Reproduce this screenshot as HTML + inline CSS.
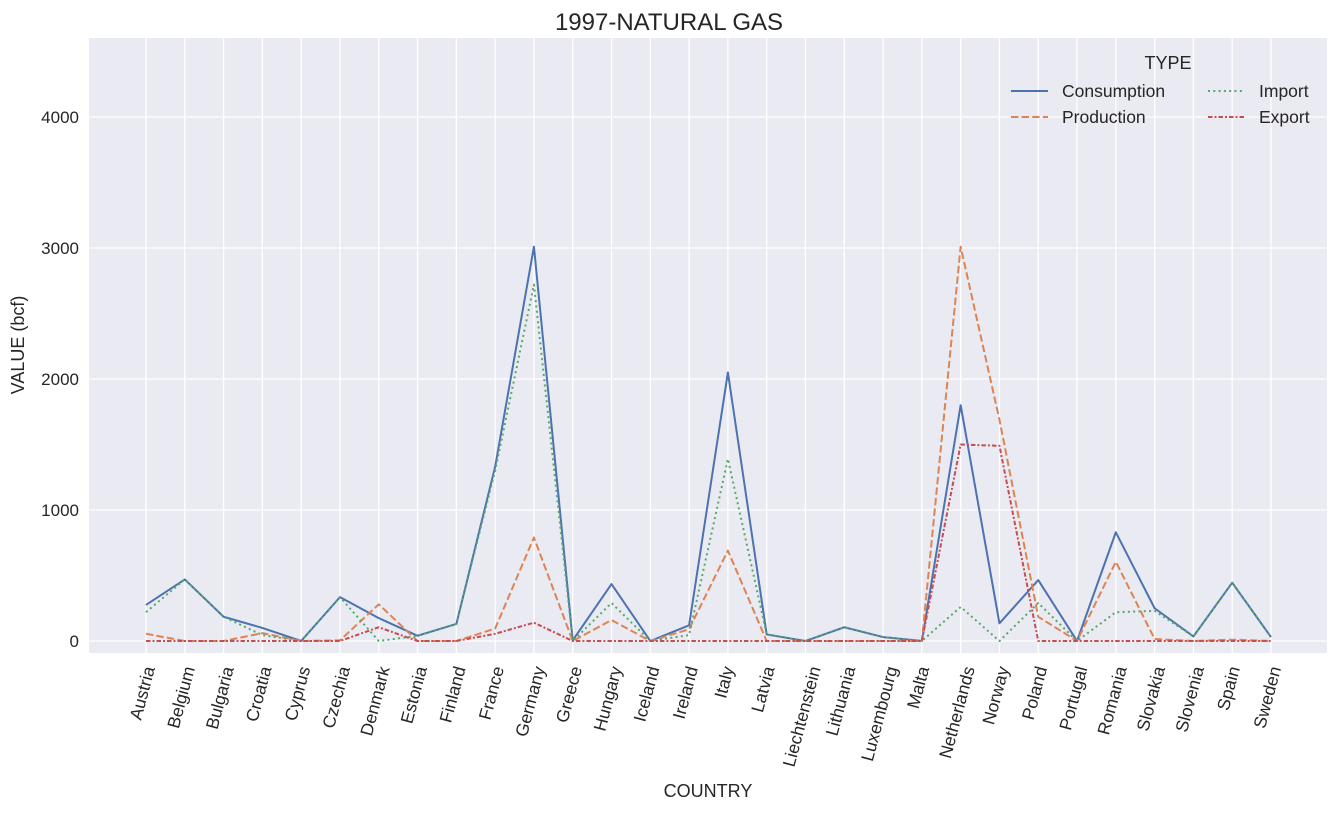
<!DOCTYPE html>
<html><head><meta charset="utf-8"><style>
body{margin:0;background:#fff;font-family:"Liberation Sans",Arial,sans-serif}
svg text{font-family:"Liberation Sans",Arial,sans-serif;fill:#262626}
</style></head><body>
<svg id="c" width="1338" height="811" xmlns="http://www.w3.org/2000/svg">
<rect x="89" y="38" width="1238" height="615" fill="#eaeaf2"/>
<g id="grid"></g><g id="lines"></g><g id="xt"></g><g id="yt"></g>
<text x="669" y="30" text-anchor="middle" font-size="24">1997-NATURAL GAS</text>
<text x="708" y="797" text-anchor="middle" font-size="18">COUNTRY</text>
<text transform="translate(24,345) rotate(-90)" text-anchor="middle" font-size="18">VALUE (bcf)</text>
<g>
<text x="1168" y="69" text-anchor="middle" font-size="18">TYPE</text>
<g><line x1="1011" y1="91" x2="1048" y2="91" stroke="#4c72b0" stroke-width="2"/><text x="1062" y="97" font-size="17.5">Consumption</text></g>
<g><line x1="1011" y1="117" x2="1048" y2="117" stroke="#dd8452" stroke-width="2" stroke-dasharray="7.4 3.2"/><text x="1062" y="123" font-size="17.5">Production</text></g>
<g><line x1="1208" y1="91" x2="1245" y2="91" stroke="#55a868" stroke-width="2" stroke-dasharray="2 3.3"/><text x="1259" y="97" font-size="17.5">Import</text></g>
<g><line x1="1208" y1="117" x2="1245" y2="117" stroke="#c44e52" stroke-width="2" stroke-dasharray="4.5 2 2 2"/><text x="1259" y="123" font-size="17.5">Export</text></g>
</g>
</svg>
<script>
const countries=["Austria","Belgium","Bulgaria","Croatia","Cyprus","Czechia","Denmark","Estonia","Finland","France","Germany","Greece","Hungary","Iceland","Ireland","Italy","Latvia","Liechtenstein","Lithuania","Luxembourg","Malta","Netherlands","Norway","Poland","Portugal","Romania","Slovakia","Slovenia","Spain","Sweden"];
const consumption=[275,470,185,100,0,335,175,40,130,1330,3010,5,435,0,120,2050,50,0,105,30,0,1800,135,465,0,830,250,35,445,30];
const production=[55,0,0,60,0,5,280,0,0,95,790,0,160,0,90,690,0,0,0,0,0,3010,1690,185,0,605,15,0,10,0];
const imports=[220,470,185,45,0,335,0,40,130,1300,2720,0,290,0,45,1390,50,0,105,30,0,260,0,290,0,220,230,35,445,30];
const exports=[0,0,0,0,0,0,105,0,0,55,140,0,0,0,0,0,0,0,0,0,0,1500,1490,0,0,0,0,0,0,0];
const yTicks=[0,1000,2000,3000,4000];
const NS="http://www.w3.org/2000/svg";
const X0=146,XS=(1271-146)/(countries.length-1);
const xs=i=>X0+i*XS, ys=v=>641-v*0.131;
function mk(t,a,p){const e=document.createElementNS(NS,t);for(const k in a)e.setAttribute(k,a[k]);document.getElementById(p).appendChild(e);return e;}
const S75=Math.sin(75*Math.PI/180);
countries.forEach((c,i)=>{
 const g=mk('line',{x1:xs(i),x2:xs(i),y1:38,y2:653,stroke:'#fff','stroke-width':1.3},'grid');
 
 
 const t=mk('text',{'text-anchor':'middle','font-size':17.5},'xt');
 t.textContent=c;
 const L=t.getComputedTextLength();
 const cy=666+(L*S75+17.5*0.26)/2;
 t.setAttribute('transform',`translate(${xs(i)+2},${cy}) rotate(-75)`);
 
 
});
yTicks.forEach(v=>{
 const g=mk('line',{x1:89,x2:1327,y1:ys(v),y2:ys(v),stroke:'#fff','stroke-width':1.3},'grid');
 
 
 const t=mk('text',{x:79,y:ys(v)+6,'text-anchor':'end','font-size':17},'yt');
 t.textContent=v;
 
 
});
const series=[["consumption",consumption,"#4c72b0","none"],["production",production,"#dd8452","7.4 3.2"],["import",imports,"#55a868","2 3.3"],["export",exports,"#c44e52","4.5 2 2 2"]];
series.forEach(s=>{
 const p=mk('polyline',{points:s[1].map((v,i)=>xs(i)+','+ys(v)).join(' '),fill:'none',stroke:s[2],'stroke-width':2,'stroke-dasharray':s[3],'stroke-linejoin':'round'},'lines');
 
 
});
</script>
</body></html>
